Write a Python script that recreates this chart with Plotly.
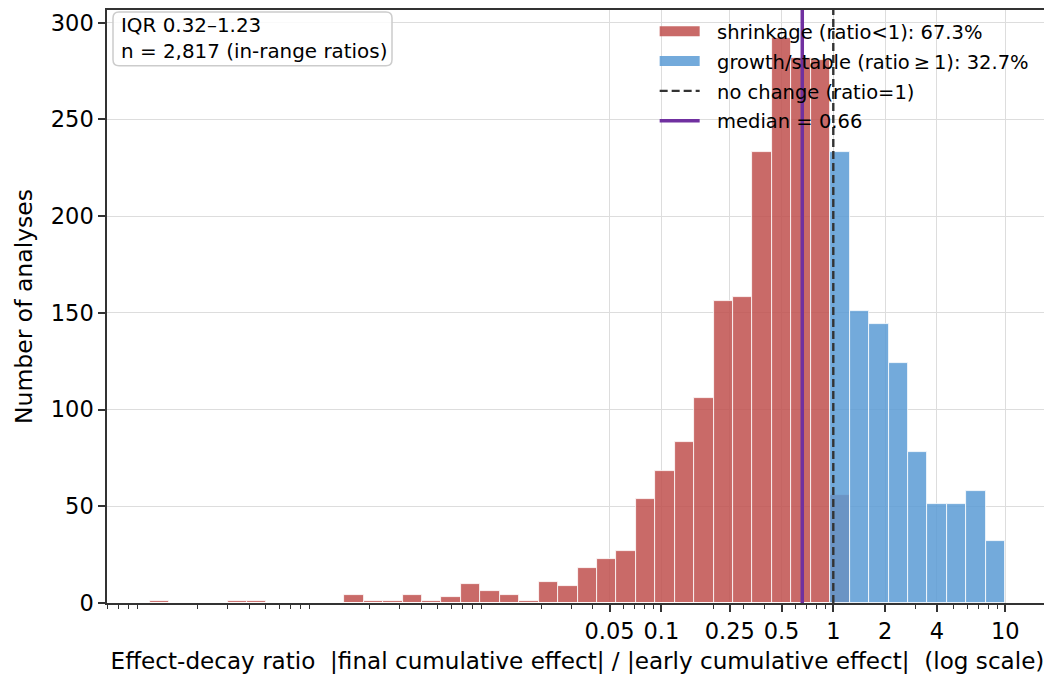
import math
import plotly.graph_objects as go

# ---------------- data ----------------
# histogram bins: uniform in log10(ratio), from first edge to ratio = 10
bin_log_min = -3.9755
bin_log_max = 1.0
n_bins = 44

shrinkage_counts = [1, 0, 0, 0, 1, 1, 0, 0, 0, 0,
                    4, 1, 1, 4, 1, 3, 10, 6, 4, 1,
                    11, 9, 18, 23, 27, 54, 68, 83, 106, 156,
                    158, 233, 292, 282, 281, 56, 0, 0, 0, 0,
                    0, 0, 0, 0]
growth_counts = [0, 0, 0, 0, 0, 0, 0, 0, 0, 0,
                 0, 0, 0, 0, 0, 0, 0, 0, 0, 0,
                 0, 0, 0, 0, 0, 0, 0, 0, 0, 0,
                 0, 0, 0, 0, 0, 233, 151, 144, 124, 78,
                 51, 51, 58, 32]

tick_values = [0.05, 0.1, 0.25, 0.5, 1, 2, 4, 10]
tick_labels = ["0.05", "0.1", "0.25", "0.5", "1", "2", "4", "10"]
y_ticks = [0, 50, 100, 150, 200, 250, 300]

median_ratio = 0.66
no_change_ratio = 1.0

shrink_label = "shrinkage (ratio<1): 67.3%"
growth_label = "growth/stable (ratio\u2009\u2265\u20091): 32.7%"
nochange_label = "no change (ratio=1)"
median_label = "median = 0.66"
info_lines = ["IQR 0.32\u20131.23", "n = 2,817 (in-range ratios)"]
x_title = ("Effect-decay ratio\u00a0\u00a0|final cumulative effect| / "
           "|early cumulative effect|\u00a0\u00a0(log scale)")
y_title = "Number of analyses"

# ---------------- styling ----------------
RED = "rgba(192,80,77,0.85)"
BLUE = "rgba(91,155,213,0.85)"
PURPLE = "#7030a0"
DARK = "#333333"
FONT = "DejaVu Sans"
GAP = "\u00a0\u00a0"  # extra space between legend handle and text

PLOT_W, PLOT_H = 941, 595  # plot area in px (figure 1044x674, margins below)

bin_w = (bin_log_max - bin_log_min) / n_bins
centers = [bin_log_min + (k + 0.5) * bin_w for k in range(n_bins)]
x_range = [bin_log_min - 0.05 * (bin_log_max - bin_log_min),
           bin_log_max + 0.05 * (bin_log_max - bin_log_min)]
y_range = [0, max(shrinkage_counts + growth_counts) * 1.05]

major_log = [math.log10(v) for v in tick_values]
minor_log = []
for e in range(-6, 3):
    for m in range(2, 10):
        lv = math.log10(m * 10 ** e)
        if x_range[0] <= lv <= x_range[1] and all(abs(lv - t) > 1e-6 for t in major_log):
            minor_log.append(lv)

fig = go.Figure()
fig.add_trace(go.Bar(x=centers, y=shrinkage_counts, width=bin_w,
                     marker=dict(color=RED, line=dict(color="white", width=0.8)),
                     showlegend=False, hoverinfo="skip"))
fig.add_trace(go.Bar(x=centers, y=growth_counts, width=bin_w,
                     marker=dict(color=BLUE, line=dict(color="white", width=0.8)),
                     showlegend=False, hoverinfo="skip"))

# reference lines
fig.add_shape(type="line", xref="x", yref="paper",
              x0=math.log10(no_change_ratio), x1=math.log10(no_change_ratio), y0=0, y1=1,
              line=dict(color=DARK, width=2.4, dash="8px,4px"))
fig.add_shape(type="line", xref="x", yref="paper",
              x0=math.log10(median_ratio), x1=math.log10(median_ratio), y0=0, y1=1,
              line=dict(color=PURPLE, width=3.5))

# legend entries
legend_items = [
    (shrink_label, dict(color=RED, width=15)),
    (growth_label, dict(color=BLUE, width=15)),
    (nochange_label, dict(color=DARK, width=2.4, dash="8px,4px")),
    (median_label, dict(color=PURPLE, width=3.5)),
]
for i, (lbl, ln) in enumerate(legend_items):
    fig.add_trace(go.Scatter(x=[None], y=[None], mode="lines", name=GAP + lbl,
                             line=ln, legendgroup="g%d" % i))

# rounded info box (pixel geometry converted to paper units)
bx0, bx1, by0, by1, rad = 6, 285, 2, 56, 6   # px from plot's top-left corner
def px(x):
    return x / PLOT_W
def py(y):
    return 1 - y / PLOT_H
path = (f"M {px(bx0 + rad)},{py(by0)} L {px(bx1 - rad)},{py(by0)} "
        f"Q {px(bx1)},{py(by0)} {px(bx1)},{py(by0 + rad)} "
        f"L {px(bx1)},{py(by1 - rad)} Q {px(bx1)},{py(by1)} {px(bx1 - rad)},{py(by1)} "
        f"L {px(bx0 + rad)},{py(by1)} Q {px(bx0)},{py(by1)} {px(bx0)},{py(by1 - rad)} "
        f"L {px(bx0)},{py(by0 + rad)} Q {px(bx0)},{py(by0)} {px(bx0 + rad)},{py(by0)} Z")
fig.add_shape(type="path", xref="paper", yref="paper", path=path,
              fillcolor="rgba(255,255,255,0.85)", line=dict(color="#cccccc", width=1.5),
              layer="above")
fig.add_annotation(xref="paper", yref="paper", x=px(bx0 + 7), y=py((by0 + by1) / 2),
                   xanchor="left", yanchor="middle", align="left", showarrow=False,
                   text="<br>".join(info_lines),
                   font=dict(family=FONT, size=19.9, color="black"), borderpad=0)

fig.update_layout(
    width=1044, height=674,
    margin=dict(l=99, r=4, t=0, b=79),
    paper_bgcolor="white", plot_bgcolor="white",
    font=dict(family=FONT, size=22.5, color="black"),
    barmode="overlay", bargap=0,
    legend=dict(x=0.582, y=0.9966, xanchor="left", yanchor="top",
                bgcolor="rgba(0,0,0,0)", borderwidth=0,
                font=dict(family=FONT, size=19.5, color="black"),
                itemwidth=40, traceorder="grouped", tracegroupgap=1.5),
    xaxis=dict(range=x_range, tickmode="array", tickvals=major_log, ticktext=tick_labels,
               showgrid=True, gridcolor="#dddddd", gridwidth=1.3,
               ticks="outside", ticklen=7, tickwidth=1.5, tickcolor=DARK,
               showline=True, linecolor=DARK, linewidth=1.5, mirror=True,
               zeroline=False,
               minor=dict(tickmode="array", tickvals=minor_log, ticks="outside",
                          ticklen=4, tickwidth=1.2, tickcolor=DARK, showgrid=False),
               title=dict(text=x_title, font=dict(family=FONT, size=23.1), standoff=10)),
    yaxis=dict(range=y_range, tickmode="array", tickvals=y_ticks,
               showgrid=True, gridcolor="#dddddd", gridwidth=1.3,
               ticks="outside", ticklen=7, tickwidth=1.5, tickcolor=DARK,
               showline=True, linecolor=DARK, linewidth=1.5, mirror=True,
               zeroline=False,
               title=dict(text=y_title, font=dict(family=FONT, size=23.5), standoff=12)),
)

fig.write_html("out.html")
